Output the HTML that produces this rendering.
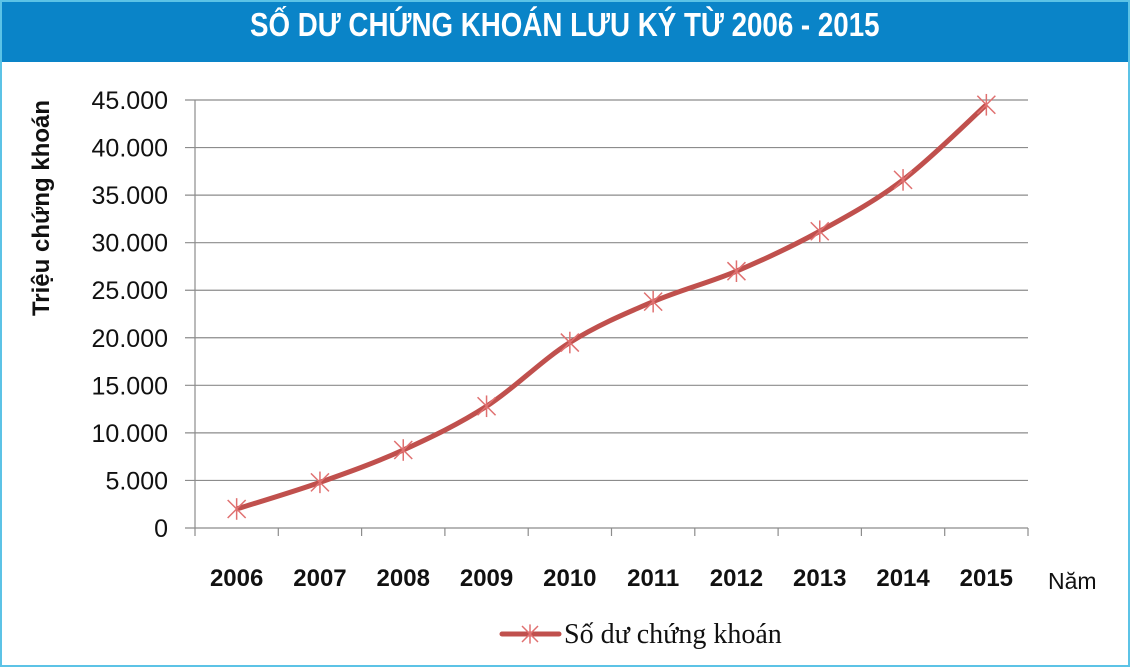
<!DOCTYPE html>
<html><head><meta charset="utf-8"><style>
body{margin:0;width:1130px;height:667px;overflow:hidden;background:#fff;font-family:"Liberation Sans",sans-serif}
#frame{position:absolute;left:0;top:0;width:1126px;height:663px;border:2px solid #5cc3e6;}
#title{position:absolute;left:2px;top:2px;width:1126px;height:60px;background:#0a84c8;color:#fff;text-align:center;line-height:60px}
#title span{display:inline-block;font:bold 33px "Liberation Sans Narrow","Liberation Sans",sans-serif;transform:scaleX(0.84)}
svg{position:absolute;left:0;top:0}
</style></head><body>
<div id="frame"></div>
<div id="title"><span>SỐ DƯ CHỨNG KHOÁN LƯU KÝ TỪ 2006 - 2015</span></div>
<svg id="c" width="1130" height="667"></svg>
<script>
const years=["2006","2007","2008","2009","2010","2011","2012","2013","2014","2015"];
const values=[2000,4800,8200,12800,19500,23800,27000,31200,36600,44500];
const yTicks=[0,5000,10000,15000,20000,25000,30000,35000,40000,45000];
const yTickLabels=["0","5.000","10.000","15.000","20.000","25.000","30.000","35.000","40.000","45.000"];
const NS="http://www.w3.org/2000/svg",svg=document.getElementById('c');
const L=195,R=1028,T=100,B=528,yMax=45000;
const x=i=>L+(i+0.5)*(R-L)/years.length;
const y=v=>B-(v/yMax)*(B-T);
function mk(t,a,p){const e=document.createElementNS(NS,t);for(const k in a)e.setAttribute(k,a[k]);(p||svg).appendChild(e);return e;}
yTicks.forEach((v,i)=>{
 const g=mk('line',{x1:185,x2:R,y1:y(v),y2:y(v),stroke:'#8c8c8c','stroke-width':1.2});
 
 
 const t=mk('text',{x:168,y:y(v)+9,'text-anchor':'end','font-size':25,fill:'#111'});t.textContent=yTickLabels[i];
 
 
});
const ax=mk('line',{x1:L,x2:L,y1:T,y2:B,stroke:'#8c8c8c','stroke-width':1.2});


for(let i=0;i<=years.length;i++){const xx=L+i*(R-L)/years.length;mk('line',{x1:xx,x2:xx,y1:B,y2:B+8,stroke:'#8c8c8c','stroke-width':1.2});}
years.forEach((yr,i)=>{const t=mk('text',{x:x(i),y:586,'text-anchor':'middle','font-size':24,'font-weight':'bold',fill:'#111'});t.textContent=yr;
 
 });
const xt=mk('text',{x:1048,y:589,'font-size':23,fill:'#111'});xt.textContent='Năm';


const yt=mk('text',{x:0,y:0,'font-size':24,'font-weight':'bold',fill:'#111','text-anchor':'middle',transform:'translate(49,208) rotate(-90)'});yt.textContent='Triệu chứng khoán';


const P=values.map((v,i)=>[x(i),y(v)]);
let d=`M${P[0][0]},${P[0][1]}`;
for(let i=0;i<P.length-1;i++){const p0=P[Math.max(i-1,0)],p1=P[i],p2=P[i+1],p3=P[Math.min(i+2,P.length-1)];
 d+=` C${p1[0]+(p2[0]-p0[0])/6},${p1[1]+(p2[1]-p0[1])/6} ${p2[0]-(p3[0]-p1[0])/6},${p2[1]-(p3[1]-p1[1])/6} ${p2[0]},${p2[1]}`;}
const ln=mk('path',{d:d,fill:'none',stroke:'#c0504d','stroke-width':5,'stroke-linejoin':'round'});


function star(cx,cy,s){const g=mk('g',{stroke:'#e07070','stroke-width':1.5});
 mk('line',{x1:cx-s,y1:cy-s,x2:cx+s,y2:cy+s},g);mk('line',{x1:cx-s,y1:cy+s,x2:cx+s,y2:cy-s},g);mk('line',{x1:cx,y1:cy-s*1.2,x2:cx,y2:cy+s*1.2},g);return g;}
P.forEach(p=>{const m=star(p[0],p[1],9);
 
 });
const lg=mk('g',{});


mk('line',{x1:502,x2:559,y1:634,y2:634,stroke:'#c0504d','stroke-width':5,'stroke-linecap':'round'},lg);
star(530,634,8);
const lt=mk('text',{x:564,y:643,'font-size':28,'font-family':'"Liberation Serif",serif',fill:'#111'},lg);lt.textContent='Số dư chứng khoán';
</script>
</body></html>
